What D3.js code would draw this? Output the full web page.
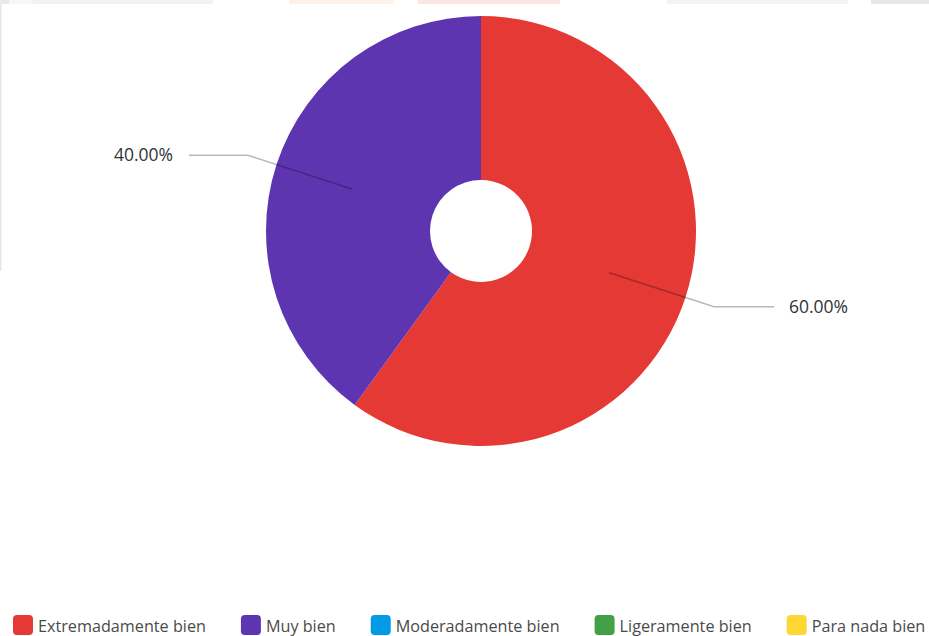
<!DOCTYPE html>
<html>
<head>
<meta charset="utf-8">
<script src="https://cdn.jsdelivr.net/npm/d3@7/dist/d3.min.js"></script>
<style>
  html, body { margin: 0; padding: 0; background: #ffffff; }
  svg { display: block; }
</style>
</head>
<body>
<svg id="chart" width="929" height="636"></svg>
<script>
// Survey answers and their share of responses
const categories = ["Extremadamente bien", "Muy bien", "Moderadamente bien", "Ligeramente bien", "Para nada bien"];
const shares = [60, 40, 0, 0, 0];
const colors = ["#e53935", "#5e35b1", "#039be5", "#43a047", "#fdd835"];

const W = 929, H = 636;
const svg = d3.select("#chart");

// Faint header strips and side rule along the page edge
const strips = [
  { x0: 0, x1: 9, c: "#e9e9ed" },
  { x0: 9, x1: 33, c: "#f7f7f9" },
  { x0: 33, x1: 213, c: "#f2f2f5" },
  { x0: 289, x1: 394, c: "#fdf1ea" },
  { x0: 418, x1: 560, c: "#fbe6e6" },
  { x0: 667, x1: 848, c: "#f3f3f5" },
  { x0: 871, x1: 929, c: "#e6e6eb" }
];
svg.append("g").selectAll("rect").data(strips).join("rect")
  .attr("x", d => d.x0).attr("y", 0)
  .attr("width", d => d.x1 - d.x0).attr("height", 4)
  .attr("fill", d => d.c);
svg.append("rect").attr("x", 0).attr("y", 4).attr("width", 1.5).attr("height", 267).attr("fill", "#e6e6ea");

// Donut
const cx = 481, cy = 231, rOuter = 215, rInner = 51;
const data = categories.map((c, i) => ({ name: c, value: shares[i], color: colors[i] }));

const pie = d3.pie().value(d => d.value).sort(null);
const arcs = pie(data).filter(a => a.data.value > 0);
const arc = d3.arc().innerRadius(rInner).outerRadius(rOuter);

const g = svg.append("g").attr("transform", `translate(${cx},${cy})`);
g.selectAll("path.slice").data(arcs).join("path")
  .attr("class", "slice")
  .attr("d", arc)
  .attr("fill", d => d.data.color);

// Leader lines and percentage labels
const inner = d3.arc().innerRadius(135).outerRadius(135);
const bend = d3.arc().innerRadius(245).outerRadius(245);
const fmt = d3.format(".2f");
const total = d3.sum(shares);

arcs.forEach(a => {
  const p0 = inner.centroid(a);
  const p1 = bend.centroid(a);
  const right = p1[0] > 0;
  const p2 = [p1[0] + (right ? 60 : -59), p1[1]];
  g.append("polyline")
    .attr("points", [p0, p1, p2].map(p => p.join(",")).join(" "))
    .attr("fill", "none")
    .attr("stroke", "rgba(0,0,0,0.28)")
    .attr("stroke-width", 1.5);
  g.append("text")
    .attr("x", p2[0] + (right ? 15 : -16))
    .attr("y", p2[1])
    .attr("dy", "0.35em")
    .attr("text-anchor", right ? "start" : "end")
    .attr("font-family", "'Open Sans', sans-serif")
    .attr("font-size", 17.5)
    .attr("fill", "#333")
    .text(fmt(a.data.value / total * 100) + "%");
});

// Legend along the bottom edge
const legend = svg.append("g").attr("transform", "translate(13,615)");
let lx = 0;
data.forEach(d => {
  const item = legend.append("g").attr("transform", `translate(${lx},0)`);
  item.append("rect")
    .attr("width", 20).attr("height", 20).attr("rx", 4)
    .attr("fill", d.color);
  const t = item.append("text")
    .attr("x", 25).attr("y", 11)
    .attr("dy", "0.35em")
    .attr("font-family", "'Open Sans', sans-serif")
    .attr("font-size", 16.2)
    .attr("fill", "#4a4a4a")
    .text(d.name);
  lx += 25 + t.node().getComputedTextLength() + 35;
});
</script>
</body>
</html>
